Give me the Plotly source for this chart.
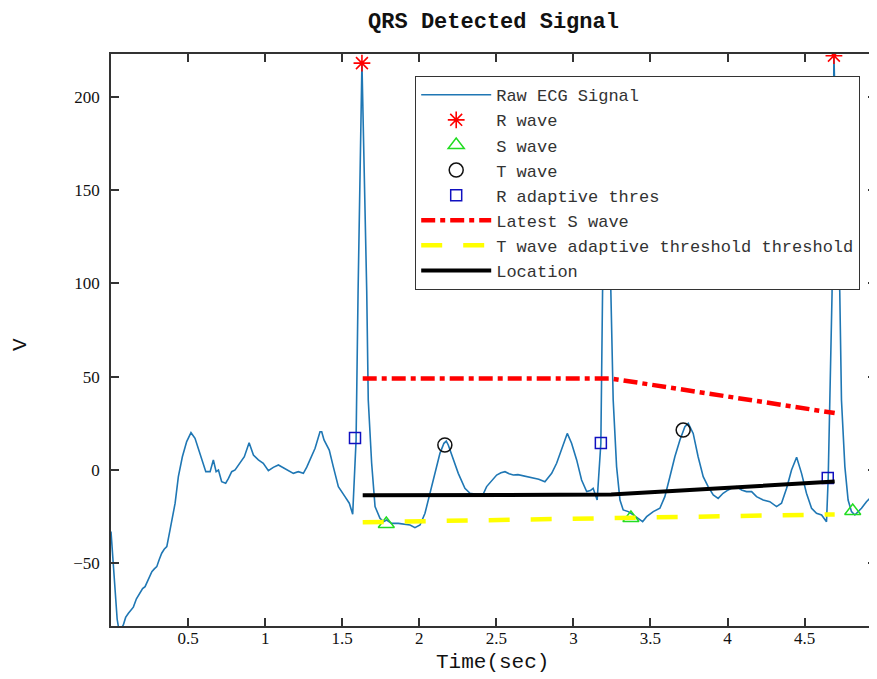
import plotly.graph_objects as go

# ---------------- data ----------------
t_sig = [0, 0.02, 0.04, 0.052, 0.066, 0.080, 0.095, 0.113, 0.130, 0.145, 0.165, 0.189, 0.205, 0.221,
         0.243, 0.265, 0.281, 0.297, 0.313, 0.329, 0.345, 0.362, 0.383, 0.400, 0.416, 0.437, 0.463,
         0.491, 0.519, 0.545, 0.578, 0.615, 0.643, 0.664, 0.682, 0.697, 0.718, 0.744, 0.762, 0.783,
         0.805, 0.837, 0.865, 0.896, 0.924, 0.956, 0.988, 1.021, 1.053, 1.086, 1.129, 1.155, 1.183,
         1.215, 1.248, 1.270, 1.291, 1.324, 1.356, 1.367, 1.382, 1.416, 1.442, 1.475, 1.518, 1.546,
         1.568, 1.590, 1.603, 1.628, 1.659, 1.669, 1.691, 1.713, 1.745, 1.767, 1.788, 1.821, 1.864,
         1.905, 1.940, 1.972, 2.005, 2.037, 2.069, 2.102, 2.134, 2.160, 2.175, 2.188, 2.221, 2.253,
         2.296, 2.329, 2.372, 2.415, 2.437, 2.480, 2.502, 2.530, 2.556, 2.583, 2.610, 2.640, 2.674,
         2.705, 2.739, 2.775, 2.815, 2.859, 2.891, 2.923, 2.960, 2.988, 3.021, 3.053, 3.086, 3.110,
         3.128, 3.154, 3.178, 3.189, 3.215, 3.243, 3.258, 3.280, 3.302, 3.323, 3.356, 3.388, 3.420,
         3.449, 3.475, 3.518, 3.561, 3.593, 3.626, 3.658, 3.691, 3.723, 3.745, 3.777, 3.809, 3.842,
         3.874, 3.907, 3.939, 3.971, 4.004, 4.030, 4.058, 4.091, 4.123, 4.156, 4.188, 4.231, 4.274,
         4.318, 4.350, 4.383, 4.415, 4.448, 4.480, 4.512, 4.545, 4.577, 4.610, 4.642, 4.653, 4.659,
         4.678, 4.690, 4.728, 4.739, 4.761, 4.782, 4.804, 4.826, 4.848, 4.869, 4.901, 4.934, 4.966]
v_sig = [-33, -55, -80, -86, -85, -83, -79, -76.8, -75, -73.5, -69, -65.2, -63.5, -62.5,
         -58, -54.5, -53, -51.8, -48, -44.6, -42.5, -41.1, -32.1, -25, -17.8, -3.6, 7.1,
         15.2, 20.0, 17.0, 8.9, -0.9, -0.9, 5.4, -0.9, 0, -6.3, -7.1, -4.5, -0.9,
         0, 3.6, 7.1, 14.6, 8.0, 5.4, 3.6, -0.4, 1.4, 2.7, 0.9, -0.5, -1.8,
         -0.9, -1.8, 1.5, 5.4, 11.6, 20.5, 20.5, 16.1, 10.7, 1.8, -8.9, -14.3, -17.8,
         -23.7, 16, 96, 218, 96, 37.5, 3.6, -19.6, -25.9, -27.7, -26.8, -28.6, -28.6,
         -29, -29.5, -30.9, -29.5, -23.2, -12.5, -1.8, 8.9, 14.3, 15.5, 13.4, 5.4, -1.8,
         -9.8, -12.5, -13, -12.9, -8.9, -4.5, -2.7, -1.5, -0.9, -2, -2.7, -2.5, -3.2,
         -3.5, -4.5, -5, -6.3, -1.8, 3.6, 10.7, 19.6, 14.3, 5.4, -5.4, -11.6, -11,
         -9.8, -16.1, 14.3, 95, 205, 95, 37.5, 1.8, -16.1, -21.4, -22.3, -24.1, -25.9,
         -27.7, -25.0, -22.3, -20.5, -14.3, -3.6, 7.1, 16.1, 23.2, 25, 19.6, 7.1, -3.6,
         -8.9, -13.4, -15.2, -12.5, -10.7, -9.5, -8.9, -10.7, -11.6, -11.6, -14.3, -16.1, -17.0,
         -19.6, -17.8, -9.8, 0, 6.8, -1.8, -12.5, -20.5, -23.2, -24.1, -27.7, -4, 19.6,
         95, 222, 95, 37.5, 1.8, -16.1, -22.3, -24.1, -22.5, -20.5, -17, -14.3, -9.8]

r_t = [1.628, 3.215, 4.690]
r_v = [218, 205, 222]
s_t = [1.786, 3.373, 4.812]
s_v = [-28.9, -25.7, -22.0]
tw_t = [2.166, 3.712]
tw_v = [13.4, 21.4]
rth_t = [1.583, 3.178, 4.650]
rth_v = [17.1, 14.5, -4.3]
loc_t = [1.633, 3.245, 4.695]
lates_v = [49, 49, 30.5]
twthr_v = [-28.0, -25.5, -23.8]
loc_v = [-13.6, -13.2, -6.2]

x_ticks = [0.5, 1, 1.5, 2, 2.5, 3, 3.5, 4, 4.5]
x_ticktext = ["0.5", "1", "1.5", "2", "2.5", "3", "3.5", "4", "4.5"]
y_ticks = [-50, 0, 50, 100, 150, 200]

names = ["Raw ECG Signal", "R wave", "S wave", "T wave", "R adaptive thres",
         "Latest S wave", "T wave adaptive threshold threshold", "Location"]

# ---------------- figure ----------------
fig = go.Figure()
fig.add_trace(go.Scatter(x=t_sig, y=v_sig, mode="lines", name=names[0],
                         line=dict(color="#1f77b4", width=1.6)))
fig.add_trace(go.Scatter(x=r_t, y=r_v, mode="markers", name=names[1],
                         marker=dict(symbol="asterisk-open", size=14, color="#ff0000",
                                     line=dict(color="#ff0000", width=1.6))))
fig.add_trace(go.Scatter(x=s_t, y=s_v, mode="markers", name=names[2],
                         marker=dict(symbol="triangle-up-open", size=14, color="#22dd22",
                                     line=dict(color="#22dd22", width=1.5))))
fig.add_trace(go.Scatter(x=tw_t, y=tw_v, mode="markers", name=names[3],
                         marker=dict(symbol="circle-open", size=14, color="#111111",
                                     line=dict(color="#111111", width=1.5))))
fig.add_trace(go.Scatter(x=rth_t, y=rth_v, mode="markers", name=names[4],
                         marker=dict(symbol="square-open", size=11, color="#1010c0",
                                     line=dict(color="#1010c0", width=1.5))))
fig.add_trace(go.Scatter(x=loc_t, y=lates_v, mode="lines", name=names[5],
                         line=dict(color="#ff0000", width=4.5, dash="14px,5px,5px,5px")))
fig.add_trace(go.Scatter(x=loc_t, y=twthr_v, mode="lines", name=names[6],
                         line=dict(color="#ffff00", width=4.5, dash="21px,21px")))
fig.add_trace(go.Scatter(x=loc_t, y=loc_v, mode="lines", name=names[7],
                         line=dict(color="#000000", width=4)))

axis_common = dict(showgrid=False, zeroline=False, showline=True, linecolor="#333333",
                   linewidth=1.5, mirror="ticks", ticks="inside", ticklen=8,
                   tickcolor="#333333", tickwidth=1.5, automargin=False,
                   tickfont=dict(family="Liberation Serif", size=17, color="#111111"))

title_font = dict(family="Liberation Mono", size=21, color="#111111")

# page has an 8px body margin: the figure is sized and offset to compensate
W, H = 869, 671
fig.update_layout(
    width=W, height=H,
    margin=dict(l=103, r=1, t=46, b=53),
    paper_bgcolor="white", plot_bgcolor="white",
    title=dict(text="QRS Detected Signal", x=0.5, xref="paper", xanchor="center",
               y=1 - 12 / H, yref="container", yanchor="middle",
               font=dict(family="Liberation Mono", size=22, color="#111111", weight="bold")),
    xaxis=dict(range=[0, 4.963], tickvals=x_ticks, ticktext=x_ticktext,
               ticklabelstandoff=-4, **axis_common),
    yaxis=dict(range=[-83.6, 222.9], tickvals=y_ticks, ticklabelstandoff=6, **axis_common),
    legend=dict(x=(415 - 111) / 765, y=(626 - 76) / 572, xanchor="left", yanchor="top",
                bgcolor="white", bordercolor="#333333", borderwidth=1.2,
                font=dict(family="Liberation Mono", size=17, color="#333333"),
                itemwidth=70, tracegroupgap=0),
    showlegend=True,
    annotations=[
        dict(text="Time(sec)", xref="paper", yref="paper", x=(492 - 111) / 765,
             y=(626 - 663) / 572, xanchor="center", yanchor="middle",
             showarrow=False, font=title_font),
        dict(text="V", xref="paper", yref="paper", x=(20 - 111) / 765,
             y=(626 - 345) / 572, xanchor="center", yanchor="middle",
             showarrow=False, textangle=-90, font=title_font),
    ],
)

fig.write_html("out.html")
